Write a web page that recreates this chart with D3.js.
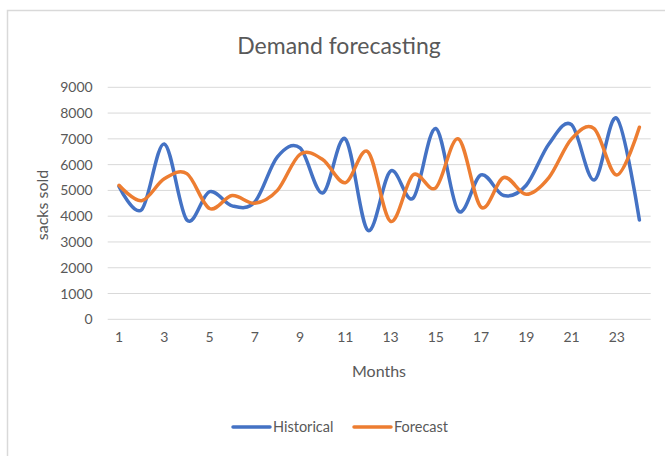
<!DOCTYPE html>
<html>
<head>
<meta charset="utf-8">
<script src="https://cdn.jsdelivr.net/npm/d3@7"></script>
<style>
  html, body { margin: 0; padding: 0; background: #fff; }
  svg { display: block; font-family: Lato, "Open Sans", sans-serif; }
</style>
</head>
<body>
<svg id="chart" width="665" height="456"></svg>
<script>
// Monthly demand (sacks sold), historical vs. forecast
const months = d3.range(1, 25);
const historical = [5150, 4250, 6800, 3850, 4950, 4400, 4550, 6300, 6650, 4900, 7000, 3450,
                    5750, 4700, 7400, 4200, 5600, 4800, 5200, 6800, 7550, 5400, 7800, 3850];
const forecast   = [5200, 4600, 5450, 5650, 4300, 4800, 4500, 5000, 6400, 6200, 5300, 6500,
                    3800, 5600, 5100, 7000, 4350, 5500, 4850, 5500, 7000, 7400, 5600, 7450];
const yTicks = d3.range(0, 10000, 1000);
const xTickLabels = months.filter(m => m % 2 === 1);

const series = [
  { name: "Historical", values: historical, color: "#4472C4" },
  { name: "Forecast",   values: forecast,   color: "#ED7D31" }
];

const svg = d3.select("#chart");
const plot = { left: 107.7, right: 650.7, top: 87.3, bottom: 319.3 };

// Chart frame
svg.append("path")
  .attr("d", "M7.5,456 V10.5 H665")
  .attr("fill", "none")
  .attr("stroke", "#d9d9d9")
  .attr("stroke-width", 1.5);

const x = d3.scaleBand().domain(months).range([plot.left, plot.right]);
const xc = m => x(m) + x.bandwidth() / 2;
const y = d3.scaleLinear().domain([0, 9000]).range([plot.bottom, plot.top]);

// Gridlines
svg.append("g")
  .selectAll("line")
  .data(yTicks)
  .join("line")
  .attr("x1", plot.left).attr("x2", plot.right)
  .attr("y1", d => y(d)).attr("y2", d => y(d))
  .attr("stroke", "#d9d9d9")
  .attr("stroke-width", 1);

// Y axis labels
const yAxis = svg.append("g")
  .attr("transform", `translate(${plot.left},0)`)
  .call(d3.axisLeft(y).tickValues(yTicks).tickSize(0).tickPadding(15).tickFormat(d3.format("d")));
yAxis.select(".domain").remove();
yAxis.selectAll("text")
  .attr("fill", "#595959")
  .style("font-size", "14px")
  .style("font-family", "Lato, 'Open Sans', sans-serif");

// X axis labels
const xAxis = svg.append("g")
  .attr("transform", `translate(0,${plot.bottom})`)
  .call(d3.axisBottom(x).tickValues(xTickLabels).tickSize(0).tickPadding(13));
xAxis.select(".domain").remove();
xAxis.selectAll("text")
  .attr("fill", "#595959")
  .style("font-size", "14px")
  .style("font-family", "Lato, 'Open Sans', sans-serif");

// Smoothed series lines
const line = d3.line()
  .x((d, i) => xc(months[i]))
  .y(d => y(d))
  .curve(d3.curveCardinal.tension(0));

svg.append("g")
  .selectAll("path")
  .data(series)
  .join("path")
  .attr("d", d => line(d.values))
  .attr("fill", "none")
  .attr("stroke", d => d.color)
  .attr("stroke-width", 3.5)
  .attr("stroke-linecap", "round")
  .attr("stroke-linejoin", "round");

// Title
svg.append("text")
  .attr("x", 339).attr("y", 54)
  .attr("text-anchor", "middle")
  .attr("fill", "#595959")
  .style("font-size", "23px")
  .text("Demand forecasting");

// Axis titles
svg.append("text")
  .attr("x", 379).attr("y", 377)
  .attr("text-anchor", "middle")
  .attr("fill", "#595959")
  .style("font-size", "16px")
  .text("Months");

svg.append("text")
  .attr("transform", "translate(48,205) rotate(-90)")
  .attr("text-anchor", "middle")
  .attr("fill", "#595959")
  .style("font-size", "16px")
  .text("sacks sold");

// Legend
const legendItems = [
  { s: series[0], x: 233 },
  { s: series[1], x: 354 }
];
const legend = svg.append("g");
legendItems.forEach(item => {
  legend.append("line")
    .attr("x1", item.x).attr("x2", item.x + 37)
    .attr("y1", 427).attr("y2", 427)
    .attr("stroke", item.s.color)
    .attr("stroke-width", 3.5)
    .attr("stroke-linecap", "round");
  legend.append("text")
    .attr("x", item.x + 40).attr("y", 432)
    .attr("fill", "#595959")
    .style("font-size", "14.5px")
    .text(item.s.name);
});
</script>
</body>
</html>
